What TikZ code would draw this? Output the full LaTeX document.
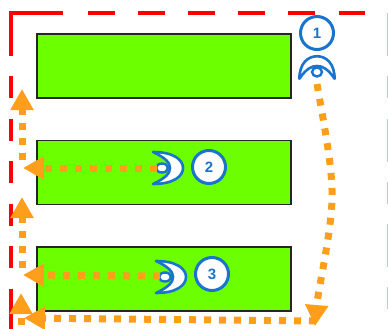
\documentclass[tikz,border=0pt]{standalone}
\usepackage{fontspec}
\setmainfont{Liberation Sans}
\usetikzlibrary{arrows.meta}
\definecolor{boxgreen}{HTML}{6CFF00}
\definecolor{flow}{HTML}{FF9E1B}
\definecolor{markblue}{HTML}{1874CD}
\tikzset{
  x=1pt,y=-1pt,
  greenbox/.style={draw=black!85,line width=1.6pt,fill=boxgreen,minimum width=254pt,minimum height=64pt,inner sep=0pt},
  numbered/.style={circle,draw=markblue,line width=3pt,fill=white,text=markblue,minimum size=33pt,inner sep=0pt,font=\fontsize{15}{15}\selectfont\bfseries},
  boundary/.style={draw=red,line width=3.4pt},
  flowline/.style={draw=flow,line width=7pt,dash pattern=on 7pt off 8pt,-{Triangle[length=21pt,width=22pt]}},
  eyemark/.pic={
    \draw[markblue,line width=2.6pt,line join=round,fill=white]
      (-9,-16) .. controls (12,-16) and (21,-8) .. (21,0)
      .. controls (21,8) and (12,16) .. (-9,16)
      .. controls (4,10) and (8,5) .. (8,0)
      .. controls (8,-5) and (4,-10) .. (-9,-16) -- cycle;
    \draw[markblue,line width=2.4pt,fill=white] (0,0) ellipse[x radius=6,y radius=4.5];
  },
}
\begin{document}
\begin{tikzpicture}
\useasboundingbox (0,0) rectangle (388,329);
\clip (0,0) rectangle (388,329);
\coordinate (cornerA) at (11,56);
\coordinate (cornerB) at (11,13);
\coordinate (cornerC) at (63,13);
\coordinate (topS) at (88,13);
\coordinate (topE) at (392,13);
\coordinate (leftS) at (11,76);
\coordinate (leftE) at (11,289);
\coordinate (leftF) at (11,329);
\coordinate (rightS) at (388,13);
\coordinate (rightE) at (388,329);
\draw[boundary] (cornerA) -- (cornerB) -- (cornerC);
\draw[boundary,dash pattern=on 26.5pt off 23.6pt] (topS) -- (topE);
\draw[boundary,dash pattern=on 22pt off 20.5pt] (leftS) -- (leftE);
\draw[boundary] (leftE) -- (leftF);
\draw[draw=red!30,line width=2pt,dash pattern=on 43pt off 20pt on 22pt off 20.5pt] (rightS) -- (rightE);
\node[greenbox] (box1) at (164,66) {};
\node[greenbox] (box2) at (164,172.5) {};
\node[greenbox] (box3) at (164,279) {};
\node[numbered] (n1) at (317,33) {1};
\node[numbered] (n2) at (209,167) {2};
\node[numbered] (n3) at (212,274) {3};
\pic[rotate=90,xscale=.75,yscale=1.1] at (317,72) {eyemark};
\pic at (162,168) {eyemark};
\pic at (165,277) {eyemark};
\coordinate (e1) at (317,84);
\coordinate (e2) at (157,168);
\coordinate (e3) at (160,276);
\coordinate (t1) at (315,326);
\coordinate (b1) at (316,321);
\coordinate (m1) at (332,200);
\coordinate (t2) at (23,168);
\coordinate (c2) at (22,160);
\coordinate (u2) at (22,89);
\coordinate (t3) at (23,275);
\coordinate (c3) at (22,268);
\coordinate (u3) at (22,197);
\coordinate (t4) at (24,318);
\coordinate (c4) at (21,325);
\coordinate (u4) at (21,293);
\draw[flowline] (e1) .. controls (325,130) and (333,170) .. (m1) .. controls (331,235) and (318,290) .. (t1);
\draw[flowline] (b1) -- (t4);
\draw[flowline] (e2) -- (t2);
\draw[flowline] (e3) -- (t3);
\draw[flowline] (c2) -- (u2);
\draw[flowline] (c3) -- (u3);
\draw[flowline] (c4) -- (u4);
\end{tikzpicture}
\end{document}
